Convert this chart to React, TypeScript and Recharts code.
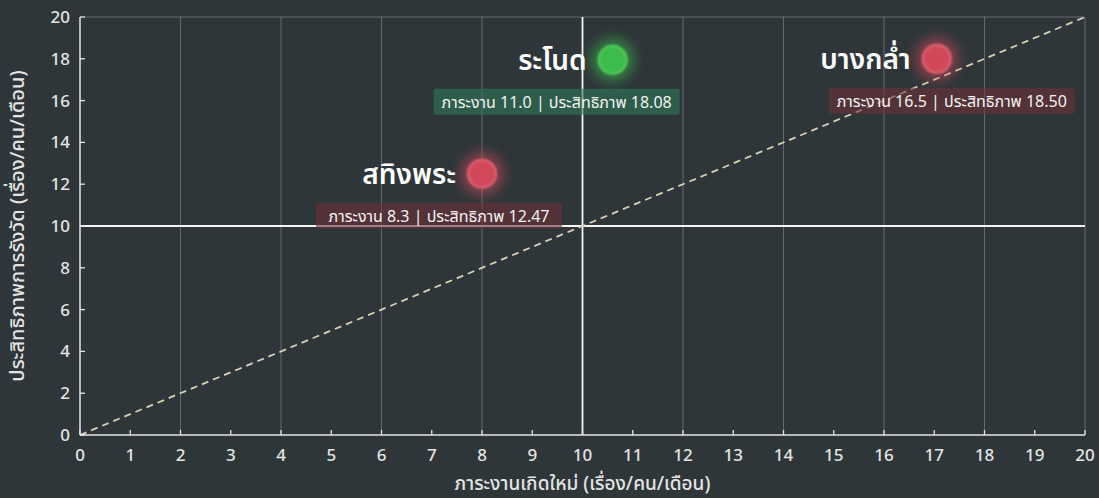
import React from 'react'
import { ReferenceLine, Scatter, ScatterChart, XAxis, YAxis } from 'recharts'

// district names and where their dots sit on the chart
const names = ['สทิงพระ', 'ระโนด', 'บางกล่ำ']
const plotX = [8.0, 10.6, 17.05]
const plotY = [12.5, 17.95, 18.0]
// values printed in the caption boxes
const workload = ['8.3', '11.0', '16.5']
const efficiency = ['12.47', '18.08', '18.50']
const status = ['red', 'green', 'red']

const xTicks = [0, 1, 2, 3, 4, 5, 6, 7, 8, 9, 10, 11, 12, 13, 14, 15, 16, 17, 18, 19, 20]
const yTicks = [0, 2, 4, 6, 8, 10, 12, 14, 16, 18, 20]
const gridX = [2, 4, 6, 8, 12, 14, 16, 18, 20]

const points = names.map((name, i) => ({
  name,
  x: plotX[i],
  y: plotY[i],
  workload: workload[i],
  efficiency: efficiency[i],
  status: status[i],
}))

// caption box shift relative to dot, per point
const boxShift = [-43, -56, 15]

const FONT = '"Noto Sans", "Noto Sans Thai", sans-serif'
const BG = '#2e3639'
const AXIS = '#e4e4e4'

function XTick({ x, y, payload }: any) {
  return (
    <g>
      <line x1={x} x2={x} y1={y} y2={y - 5} stroke={AXIS} strokeWidth={1.3} />
      <text x={x} y={y + 26} textAnchor="middle" fill={AXIS} fontSize={17} fontWeight={500} fontFamily={FONT}>
        {payload.value}
      </text>
    </g>
  )
}

function YTick({ x, y, payload }: any) {
  return (
    <g>
      <line x1={x} x2={x + 5} y1={y} y2={y} stroke={AXIS} strokeWidth={1.3} />
      <text x={x - 10} y={y + 6} textAnchor="end" fill={AXIS} fontSize={17} fontWeight={500} fontFamily={FONT}>
        {payload.value}
      </text>
    </g>
  )
}

function PointShape(props: any) {
  const { cx, cy, payload, index } = props
  const red = payload.status === 'red'
  const core = red ? '#d84a5c' : '#3cc24c'
  const ring = red ? '#ee6a78' : '#55d862'
  const boxFill = red ? 'rgba(108,50,56,0.6)' : 'rgba(46,120,90,0.6)'
  const bx = cx + boxShift[index]
  const bw = 246
  return (
    <g>
      <circle cx={cx} cy={cy} r={22} fill={core} opacity={0.5} filter="url(#glow)" />
      <circle cx={cx} cy={cy} r={14} fill={core} stroke={ring} strokeWidth={2} opacity={0.92} filter="url(#soft)" />
      <text x={cx - 26} y={cy + 10} textAnchor="end" fill="#ffffff" fontSize={28} fontWeight={600} fontFamily={FONT}>
        {payload.name}
      </text>
      <rect x={bx - bw / 2} y={cy + 29} width={bw} height={26} rx={2} fill={boxFill} />
      <text x={bx} y={cy + 48} textAnchor="middle" fill="#f2f2f2" fontSize={16} fontFamily={FONT}>
        {`ภาระงาน ${payload.workload} | ประสิทธิภาพ ${payload.efficiency}`}
      </text>
    </g>
  )
}

export default function App() {
  return (
    <div style={{ position: 'fixed', left: 0, top: 0, width: 1099, height: 498, background: BG }}>
      <ScatterChart width={1099} height={498} margin={{ top: 17, right: 14, bottom: 0, left: 0 }}>
        <defs>
          <filter id="glow" x="-100%" y="-100%" width="300%" height="300%">
            <feGaussianBlur stdDeviation={6} />
          </filter>
          <filter id="soft" x="-50%" y="-50%" width="200%" height="200%">
            <feGaussianBlur stdDeviation={1.3} />
          </filter>
        </defs>
        <XAxis
          type="number"
          dataKey="x"
          domain={[0, 20]}
          ticks={xTicks}
          interval={0}
          height={63}
          tickSize={0}
          tickMargin={0}
          tick={<XTick />}
          axisLine={{ stroke: AXIS, strokeWidth: 1.5 }}
          label={{
            content: ({ viewBox }: any) => (
              <text
                x={viewBox.x + viewBox.width / 2}
                y={viewBox.y + 55}
                textAnchor="middle"
                fill={AXIS}
                fontSize={19}
                fontWeight={500}
                fontFamily={FONT}
              >
                ภาระงานเกิดใหม่ (เรื่อง/คน/เดือน)
              </text>
            ),
          }}
        />
        <YAxis
          type="number"
          dataKey="y"
          domain={[0, 20]}
          ticks={yTicks}
          interval={0}
          width={80}
          tickSize={0}
          tickMargin={0}
          tick={<YTick />}
          axisLine={{ stroke: AXIS, strokeWidth: 1.5 }}
          label={{
            content: ({ viewBox }: any) => {
              const cy = viewBox.y + viewBox.height / 2
              return (
                <text
                  x={24}
                  y={cy}
                  transform={`rotate(-90 24 ${cy})`}
                  textAnchor="middle"
                  fill={AXIS}
                  fontSize={20}
                  fontWeight={500}
                  fontFamily={FONT}
                >
                  ประสิทธิภาพการรังวัด (เรื่อง/คน/เดือน)
                </text>
              )
            },
          }}
        />
        {gridX.map((v) => (
          <ReferenceLine key={v} x={v} stroke="#c8cccc" strokeOpacity={0.35} strokeWidth={1} />
        ))}
        <ReferenceLine y={20} stroke="#c8cccc" strokeOpacity={0.35} strokeWidth={1} />
        <ReferenceLine x={10} stroke="#f4f4f4" strokeWidth={1.8} />
        <ReferenceLine y={10} stroke="#f4f4f4" strokeWidth={1.8} />
        <ReferenceLine
          segment={[
            { x: 0, y: 0 },
            { x: 20, y: 20 },
          ]}
          stroke="#d9d0b8"
          strokeWidth={1.8}
          strokeDasharray="7 5"
        />
        <Scatter data={points} shape={<PointShape />} isAnimationActive={false} />
      </ScatterChart>
    </div>
  )
}
